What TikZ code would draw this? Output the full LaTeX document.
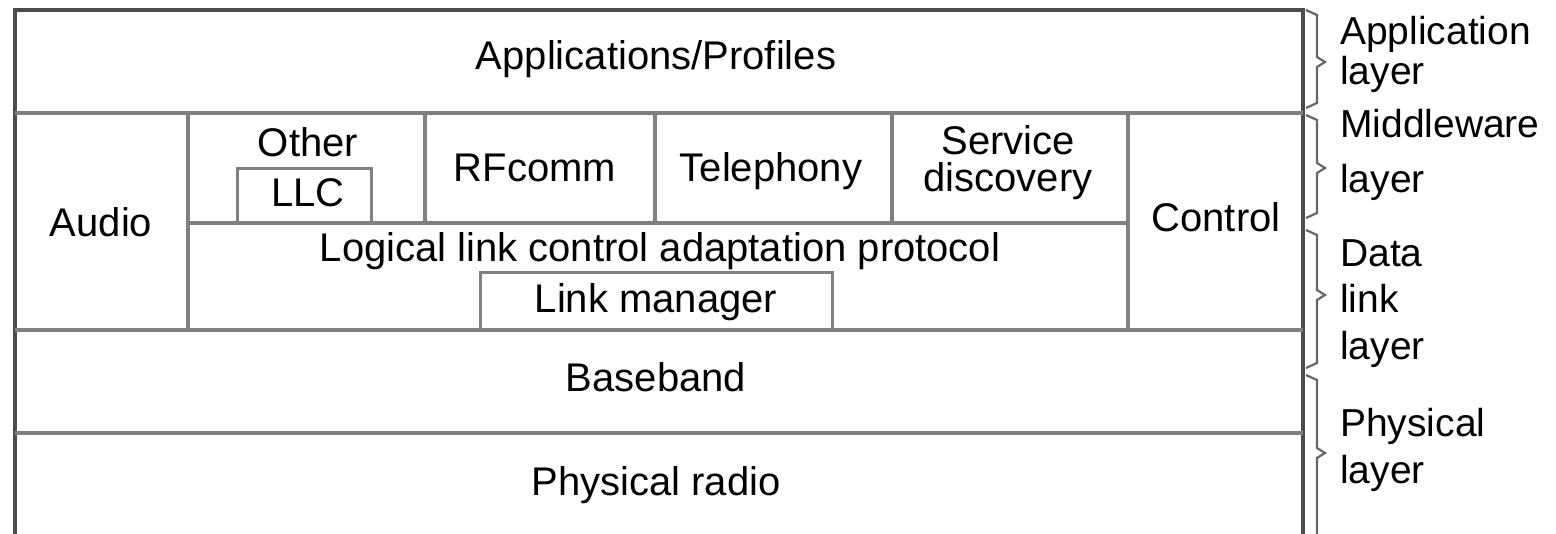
\documentclass[tikz,border=0pt]{standalone}
\usepackage{fontspec}
\setmainfont{Liberation Sans}
\begin{document}
\begin{tikzpicture}[x=1pt,y=-1pt,
  txt/.style={inner sep=0pt,anchor=base,font=\fontsize{40}{46}\selectfont},
  lbl/.style={inner sep=0pt,anchor=base west,font=\fontsize{39}{46}\selectfont},
  grid/.style={line width=3.5pt,draw=black!50},
  frame/.style={line width=3.5pt,draw=black!70},
  brc/.style={line width=2.2pt,draw=black!60,line join=miter}]
\useasboundingbox (0,0) rectangle (1556,534);
% frame
\draw[frame] (15,534) -- (15,10) -- (1303,10) -- (1303,534);
% horizontal rules
\draw[grid] (15,113) -- (1303,113);
\draw[grid] (188,223) -- (1128,223);
\draw[grid] (15,330) -- (1303,330);
\draw[grid] (15,433) -- (1303,433);
% vertical rules
\draw[grid] (188,113) -- (188,330);
\draw[grid] (425,113) -- (425,223);
\draw[grid] (655,113) -- (655,223);
\draw[grid] (892,113) -- (892,223);
\draw[grid] (1128,113) -- (1128,330);
% inner boxes
\draw[grid,line width=3pt] (237,223) -- (237,169) -- (371,169) -- (371,223);
\draw[grid,line width=3pt] (480,330) -- (480,273) -- (832,273) -- (832,330);
% texts
\node[txt] (app) at (656,70) {Applications/Profiles};
\node[txt] (audio) at (101,237) {Audio};
\node[txt] (other) at (308,157) {Other};
\node[txt] (llc) at (308,207) {LLC};
\node[txt] (rfc) at (535,182) {RFcomm};
\node[txt] (tel) at (771,182) {Telephony};
\node[txt,anchor=center,align=center,font=\fontsize{40}{37}\selectfont] (sd) at (1008,163) {Service\\discovery};
\node[txt] (ctl) at (1216,232) {Control};
\node[txt] (l2cap) at (660,262) {Logical link control adaptation protocol};
\node[txt] (lm) at (656,313) {Link manager};
\node[txt] (bb) at (656,392) {Baseband};
\node[txt] (pr) at (656,495) {Physical radio};
% braces
\draw[brc] (1306,10) -- (1317,15) -- (1317,57) -- (1325,62) -- (1317,67) -- (1317,103) -- (1306,108);
\draw[brc] (1306,115) -- (1317,120) -- (1317,163) -- (1325,168) -- (1317,173) -- (1317,213) -- (1306,218);
\draw[brc] (1306,230) -- (1317,235) -- (1317,290) -- (1325,295) -- (1317,300) -- (1317,363) -- (1306,368);
\draw[brc] (1306,375) -- (1317,380) -- (1317,448) -- (1325,453) -- (1317,458) -- (1317,534);
% layer labels
\node[lbl] (la1) at (1340,45) {Application};
\node[lbl] (la2) at (1340,85) {layer};
\node[lbl] (lm1) at (1340,138) {Middleware};
\node[lbl] (lm2) at (1340,193) {layer};
\node[lbl] (ld1) at (1340,267) {Data};
\node[lbl] (ld2) at (1340,313) {link};
\node[lbl] (ld3) at (1340,360) {layer};
\node[lbl] (lp1) at (1340,437) {Physical};
\node[lbl] (lp2) at (1340,483) {layer};
\end{tikzpicture}
\end{document}
